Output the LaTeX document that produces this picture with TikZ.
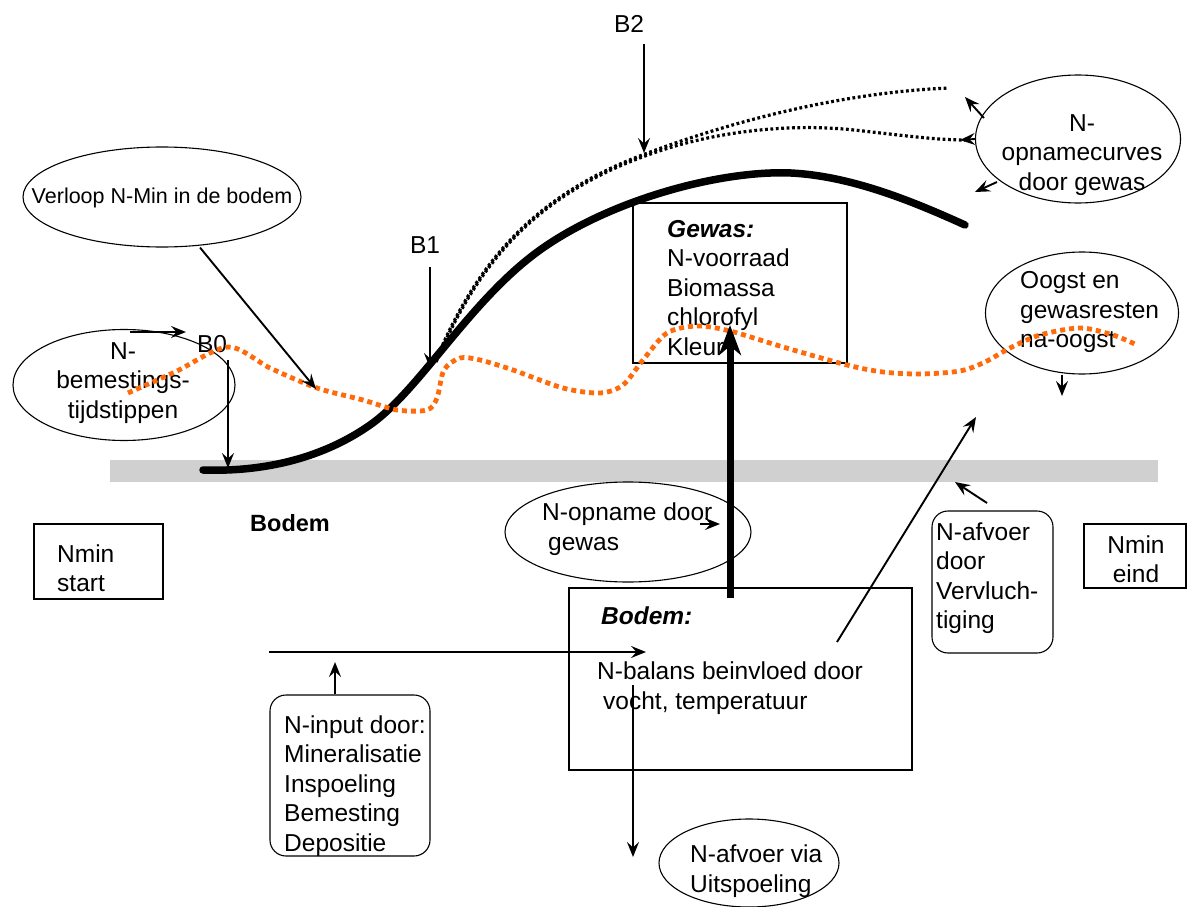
\documentclass[tikz,border=0pt]{standalone}
\usepackage{fontspec}
\setmainfont{Liberation Sans}
\usetikzlibrary{shapes.geometric,arrows.meta}
\definecolor{nmincol}{RGB}{255,106,10}
\definecolor{bandcol}{RGB}{208,208,208}
\begin{document}
\begin{tikzpicture}[x=1pt,y=-1pt,
  txt/.style={font=\fontsize{24.5}{29.5}\selectfont, inner sep=0pt, align=left},
  ctxt/.style={txt, align=center},
  ell/.style={draw, ellipse, line width=1.1pt, inner sep=0pt},
  box/.style={draw, rectangle, line width=1.1pt, inner sep=0pt},
  rbox/.style={box, rounded corners=16pt},
  arr/.style={line width=1.9pt, -{Stealth[length=15pt,width=12pt,inset=5.5pt]}},
  bigarr/.style={line width=7pt, -{Stealth[length=30pt,width=22pt,inset=9pt]}},
  plant/.style={line width=7.5pt, line cap=round, line join=round},
  potcurve/.style={line width=3.2pt, dash pattern=on 2.8pt off 2.6pt},
  nmin/.style={nmincol, line width=4.8pt, dash pattern=on 5pt off 4pt}
]
\useasboundingbox (0,0) rectangle (1187,907);

% soil band
\fill[bandcol] (110,460) rectangle (1158,482);

% ellipses
\node[ell, minimum width=278pt, minimum height=100pt] (everloop) at (162,197) {};
\node[ell, minimum width=222pt, minimum height=111pt] (ebemest) at (124,385) {};
\node[ell, minimum width=205pt, minimum height=128pt] (ecurves) at (1078,139) {};
\node[ell, minimum width=193pt, minimum height=122pt] (eoogst) at (1082,313) {};
\node[ell, minimum width=246pt, minimum height=100pt] (eopname) at (628,532) {};
\node[ell, minimum width=180pt, minimum height=88pt] (euitsp) at (749,863) {};

% boxes
\node[box, minimum width=214pt, minimum height=160pt] (gewas) at (740,283) {};
\node[box, minimum width=343pt, minimum height=182pt] (bodembox) at (740.5,679) {};
\node[rbox, minimum width=160pt, minimum height=161pt] (ninput) at (350,775.5) {};
\node[rbox, minimum width=121pt, minimum height=142pt] (vervl) at (992.5,582) {};
\node[box, minimum width=102pt, minimum height=64pt] (nmineind) at (1135,556) {};
\node[box, minimum width=129pt, minimum height=75pt] (nminstart) at (98.5,561.5) {};

% texts
\node[txt, font=\fontsize{21.5}{25}\selectfont] (tverloop) at (162,198) {Verloop N-Min in de bodem};
\node[ctxt] (tbemest) at (123,383) {N-\\bemestings-\\tijdstippen};
\node[ctxt] (tcurves) at (1082,155) {N-\\opnamecurves\\door gewas};
\node[txt, anchor=west] (toogst) at (1020,312) {Oogst en\\gewasresten\\na-oogst};
\node[txt, anchor=west] (topname) at (542,529) {N-opname door\\\hspace*{6pt}gewas};
\node[txt, anchor=west] (tgewas) at (667,288) {\textbf{\textit{Gewas:}}\\N-voorraad\\Biomassa\\chlorofyl\\Kleur};
\node[txt, anchor=west] (tbodemkop) at (601,616) {\textbf{\textit{Bodem:}}};
\node[txt, anchor=west] (tbalans) at (597,688) {N-balans beinvloed door\\\hspace*{6pt}vocht, temperatuur};
\node[txt, anchor=west] (tinput) at (284,786) {N-input door:\\Mineralisatie\\Inspoeling\\Bemesting\\Depositie};
\node[txt, anchor=west] (tvervl) at (936,578) {N-afvoer\\door\\Vervluch-\\tiging};
\node[ctxt] (teind) at (1136,559) {Nmin\\eind};
\node[txt, anchor=west] (tstart) at (57,568) {Nmin\\start};
\node[txt, anchor=west, font=\fontsize{23.5}{28}\selectfont\bfseries] (tbodem) at (250,523) {Bodem};
\node[txt, anchor=west] (tuitsp) at (690,871) {N-afvoer via\\Uitspoeling};
\node[ctxt] (tB2) at (629,24) {B2};
\node[ctxt] (tB1) at (425,245) {B1};
\node[ctxt] (tB0) at (212,344) {B0};

% crop curves
\draw[plant] (203,470) .. controls (260,472) and (320,460) .. (370,425)
  .. controls (420,390) and (470,300) .. (540,250)
  .. controls (610,200) and (720,170) .. (791,173)
  .. controls (850,176) and (910,200) .. (965,225);
\draw[potcurve] (436,360) .. controls (470,280) and (520,200) .. (645,154)
  .. controls (740,118) and (850,92) .. (949,88);
\draw[potcurve] (436,362) .. controls (472,278) and (523,200) .. (645,156)
  .. controls (720,128) and (800,124) .. (854,130)
  .. controls (900,135) and (935,140) .. (965,140);

% N-min curve
\draw[nmin] plot[smooth, tension=0.5] coordinates {(128,393) (175,372) (228,347) (270,368) (317,388) (363,400) (397,410) (427,410) (437,398) (444,370) (460,358) (480,360) (513,370) (563,388) (600,393) (623,385) (643,360) (667,333) (697,326) (730,331) (783,347) (847,365) (883,372) (920,374) (960,371) (985,362) (1010,348) (1040,335) (1080,328) (1113,335) (1137,345)};

% coordinates for arrow ends
\coordinate (b2s) at (644,44);   \coordinate (b2e) at (644,153);
\coordinate (b1s) at (430,267);  \coordinate (b1e) at (430,368);
\coordinate (b0hs) at (130,332); \coordinate (b0he) at (186,332);
\coordinate (b0vs) at (228,360); \coordinate (b0ve) at (228,468);
\coordinate (verl) at (316,389);
\coordinate (c1) at (965,97); \coordinate (c2) at (960,140); \coordinate (c3) at (975,192);
\coordinate (oo) at (1062,396);
\coordinate (opa) at (700,524); \coordinate (opb) at (720,524);
\coordinate (diaga) at (837,642); \coordinate (diagb) at (976,417);
\coordinate (vva) at (987,503); \coordinate (vvb) at (955,482);
\coordinate (ha) at (269,652); \coordinate (hb) at (646,652);
\coordinate (iu) at (335,662);
\coordinate (da) at (633,685); \coordinate (db) at (633,857);
\coordinate (ta) at (730,598); \coordinate (tb) at (730,325);

\draw[arr] (b2s) -- (b2e);
\draw[arr] (b1s) -- (b1e);
\draw[arr] (b0hs) -- (b0he);
\draw[arr] (b0vs) -- (b0ve);
\draw[arr] (everloop.south) ++(38,0) coordinate (verls) (verls) -- (verl);
\draw[arr] (ecurves.west |- 0,118) ++(9,0) coordinate (cs1) (cs1) -- (c1);
\draw[arr] (ecurves.west) -- (c2);
\draw[arr] (997,182) coordinate (cs3) -- (c3);
\draw[arr] (eoogst.south -| oo) coordinate (os) -- (oo);
\draw[arr] (opa) -- (opb);
\draw[arr] (diaga) -- (diagb);
\draw[arr] (vva) -- (vvb);
\draw[arr] (ha) -- (hb);
\draw[arr] (ninput.north -| iu) -- (iu);
\draw[arr] (da) -- (db);
\draw[bigarr] (ta) -- (tb);
\end{tikzpicture}
\end{document}
